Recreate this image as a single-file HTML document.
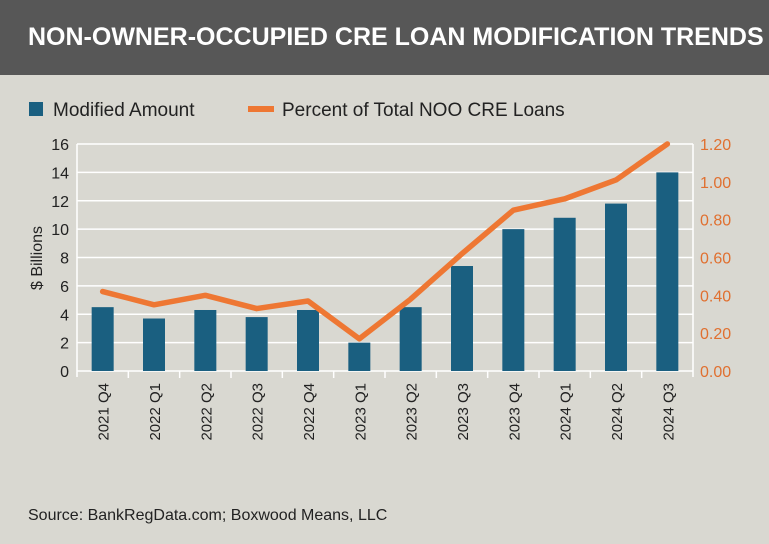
<!DOCTYPE html>
<html><head><meta charset="utf-8"><style>
body{margin:0;width:769px;height:544px;background:#d9d8d1;font-family:"Liberation Sans",sans-serif;overflow:hidden}
#hdr{position:absolute;left:0;top:0;width:769px;height:75px;background:#575757;color:#fff;font-weight:bold;font-size:25px;line-height:75px;padding-left:28px;box-sizing:border-box;letter-spacing:0px}
#src{position:absolute;left:28px;top:507px;font-size:16px;color:#222}
</style></head><body>
<div id="hdr">NON-OWNER-OCCUPIED CRE LOAN MODIFICATION TRENDS</div>
<svg id="c" width="769" height="544" style="position:absolute;left:0;top:0">
<g>
<rect x="29" y="102" width="14" height="14" fill="#1a5f80"/>
<text x="53" y="116" font-size="19" fill="#222">Modified Amount</text>
<line x1="248" y1="109" x2="274" y2="109" stroke="#ee7733" stroke-width="6"/>
<text x="282" y="116" font-size="19" fill="#222">Percent of Total NOO CRE Loans</text>
</g>
<text transform="translate(42,258) rotate(-90)" text-anchor="middle" font-size="16" fill="#222">$ Billions</text>
<g id="g"></g>
</svg>
<div id="src">Source: BankRegData.com; Boxwood Means, LLC</div>
<script>
const categories=["2021 Q4","2022 Q1","2022 Q2","2022 Q3","2022 Q4","2023 Q1","2023 Q2","2023 Q3","2023 Q4","2024 Q1","2024 Q2","2024 Q3"];
const modifiedAmount=[4.5,3.7,4.3,3.8,4.3,2.0,4.5,7.4,10.0,10.8,11.8,14.0];
const percentTotal=[0.42,0.35,0.40,0.33,0.37,0.17,0.38,0.62,0.85,0.91,1.01,1.20];
const leftTicks=[0,2,4,6,8,10,12,14,16];
const rightTicks=["0.00","0.20","0.40","0.60","0.80","1.00","1.20"];
const L=77,R=693,T=144,B=371;
const cw=(R-L)/categories.length;
const yL=v=>B-(v/16)*(B-T);
const yR=v=>B-(v/1.2)*(B-T);
const x=i=>L+cw*(i+0.5);
const g=document.getElementById('g');
const NS='http://www.w3.org/2000/svg';
function mk(t,a){const e=document.createElementNS(NS,t);for(const k in a)e.setAttribute(k,a[k]);g.appendChild(e);return e;}
leftTicks.forEach(v=>{
 const l=mk('line',{x1:L,x2:R,y1:yL(v),y2:yL(v),stroke:'#fff','stroke-width':1.5});
 
 
 const t=mk('text',{x:L-8,y:yL(v)+6,'text-anchor':'end','font-size':16,fill:'#222'});
 t.textContent=v;
 
 
});
rightTicks.forEach(s=>{
 const t=mk('text',{x:R+7,y:yR(+s)+6,'font-size':16,fill:'#e07030'});
 t.textContent=s;
 
 
});
[[L,L],[R,R]].forEach(p=>{const a=mk('line',{x1:p[0],x2:p[1],y1:T,y2:B+6,stroke:'#fff','stroke-width':1.5});
 });
for(let i=1;i<categories.length;i++){const tk=mk('line',{x1:L+cw*i,x2:L+cw*i,y1:B,y2:B+7,stroke:'#fff','stroke-width':1.5});
 }
modifiedAmount.forEach((v,i)=>{
 const r=mk('rect',{x:x(i)-11,y:yL(v),width:22,height:B-yL(v),fill:'#1a5f80'});
 
 
});
categories.forEach((c,i)=>{
 const t=mk('text',{transform:`translate(${x(i)+6},${B+12}) rotate(-90)`,'text-anchor':'end','font-size':15,fill:'#222','xml:space':'preserve'});
 t.textContent=c.replace(' ','  ');
 
 
});
const p=mk('polyline',{points:percentTotal.map((v,i)=>x(i)+','+yR(v)).join(' '),fill:'none',stroke:'#ee7733','stroke-width':5.5,'stroke-linecap':'round','stroke-linejoin':'round'});


</script>
</body></html>
